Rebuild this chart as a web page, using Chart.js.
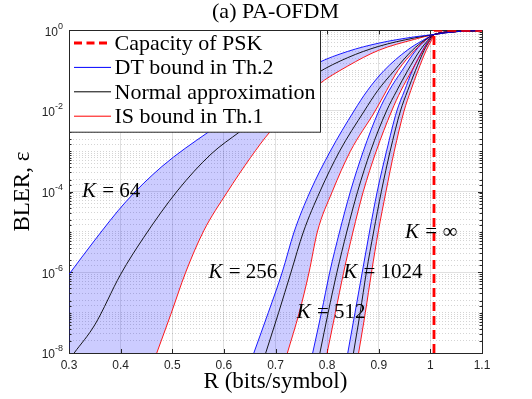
<!DOCTYPE html>
<html>
<head>
<meta charset="utf-8">
<script src="https://cdn.jsdelivr.net/npm/chart.js@4.4.1/dist/chart.umd.min.js"></script>
<style>
  html, body { margin: 0; padding: 0; background: #fff; }
  #wrap { width: 532px; height: 399px; }
</style>
</head>
<body>
<div id="wrap"><canvas id="blerChart"></canvas></div>
<script>
// axis ranges and ticks
const rRange = [0.3, 1.1];
const blerRange = [1e-8, 1];
const rTicks = [0.3, 0.4, 0.5, 0.6, 0.7, 0.8, 0.9, 1.0, 1.1];
const blerLabelExps = [0, -2, -4, -6, -8];

const seriesNames = ['Capacity of PSK', 'DT bound in Th.2', 'Normal approximation', 'IS bound in Th.1'];
const capacityR = 1.007;

// K = 64
const r64DT = [0.30, 0.35, 0.41, 0.48, 0.57, 0.62, 0.67, 0.72, 0.78, 0.84, 0.90, 0.97, 1.008, 1.05, 1.1];
const bler64DT = [8.9e-7, 6.3e-6, 5.6e-5, 4.2e-4, 3.0e-3, 7.9e-3, 2.1e-2, 5.0e-2, 0.15, 0.30, 0.48, 0.69, 0.79, 0.93, 0.99];
const r64NA = [0.31, 0.35, 0.40, 0.445, 0.51, 0.575, 0.63, 0.68, 0.73, 0.78, 0.84, 0.90, 0.97, 1.008, 1.05, 1.1];
const bler64NA = [1e-8, 5.0e-8, 8.9e-7, 7.4e-6, 1.05e-4, 8.5e-4, 3.0e-3, 8.9e-3, 2.8e-2, 8.5e-2, 0.21, 0.40, 0.65, 0.79, 0.93, 0.99];
const r64IS = [0.47, 0.497, 0.526, 0.561, 0.606, 0.652, 0.689, 0.73, 0.78, 0.84, 0.90, 0.97, 1.008, 1.05, 1.1];
const bler64IS = [1e-8, 8.9e-8, 1e-6, 1.07e-5, 9.5e-5, 7.1e-4, 3.0e-3, 1e-2, 4.2e-2, 0.13, 0.32, 0.60, 0.79, 0.93, 0.99];

// K = 256, 512, 1024: rate at which each curve reaches these BLER levels
const blerLevels = [1e-8, 1e-7, 1e-6, 1e-5, 1e-4, 1e-3, 1e-2, 3.2e-2, 0.1, 0.32, 0.56, 0.79, 0.93, 0.99];
const r256DT = [0.658, 0.686, 0.713, 0.736, 0.767, 0.806, 0.852, 0.878, 0.910, 0.955, 0.985, 1.008, 1.05, 1.1];
const r256NA = [0.681, 0.706, 0.730, 0.754, 0.786, 0.824, 0.872, 0.898, 0.930, 0.965, 0.988, 1.008, 1.05, 1.1];
const r256IS = [0.723, 0.746, 0.765, 0.781, 0.810, 0.845, 0.893, 0.915, 0.937, 0.970, 0.990, 1.008, 1.05, 1.1];
const r512DT = [0.772, 0.789, 0.805, 0.824, 0.845, 0.870, 0.900, 0.920, 0.945, 0.972, 0.990, 1.008, 1.05, 1.1];
const r512NA = [0.786, 0.802, 0.819, 0.838, 0.859, 0.884, 0.915, 0.935, 0.956, 0.980, 0.995, 1.008, 1.05, 1.1];
const r512IS = [0.800, 0.816, 0.832, 0.850, 0.870, 0.895, 0.925, 0.943, 0.964, 0.986, 0.998, 1.008, 1.05, 1.1];
const r1024DT = [0.840, 0.854, 0.868, 0.882, 0.897, 0.915, 0.935, 0.950, 0.965, 0.985, 0.997, 1.008, 1.05, 1.1];
const r1024NA = [0.851, 0.864, 0.876, 0.890, 0.905, 0.922, 0.942, 0.956, 0.971, 0.988, 0.999, 1.008, 1.05, 1.1];
const r1024IS = [0.861, 0.874, 0.886, 0.899, 0.914, 0.930, 0.949, 0.962, 0.976, 0.992, 1.002, 1.008, 1.05, 1.1];

// curve labels
const kNames = ['64', '256', '512', '1024', '\u221e'];
const kLabelR = [0.325, 0.57, 0.741, 0.831, 0.951];
const kLabelBler = [1e-4, 1e-6, 1e-7, 1e-6, 1e-5];

const SERIF = '"Liberation Serif", "Times New Roman", serif';
const SANS = '"Liberation Sans", Arial, sans-serif';
const AXIS_COLOR = '#262626';
const curveColors = ['#0000ff', '#000000', '#ff0000'];

const toPoints = (rs, ys) => rs.map((r, i) => ({ x: r, y: ys[i] }));

const families = [
    [toPoints(r64DT, bler64DT), toPoints(r64NA, bler64NA), toPoints(r64IS, bler64IS)],
    [toPoints(r256DT, blerLevels), toPoints(r256NA, blerLevels), toPoints(r256IS, blerLevels)],
    [toPoints(r512DT, blerLevels), toPoints(r512NA, blerLevels), toPoints(r512IS, blerLevels)],
    [toPoints(r1024DT, blerLevels), toPoints(r1024NA, blerLevels), toPoints(r1024IS, blerLevels)]
];

const datasets = [{
    label: seriesNames[0],
    data: [
        { x: capacityR, y: blerRange[0] },
        { x: capacityR, y: blerRange[1] },
        { x: rRange[1], y: blerRange[1] }
    ],
    borderColor: '#ff0000',
    borderWidth: 2.8,
    borderDash: [9, 5],
    pointRadius: 0
}];
families.forEach(curves => {
    curves.forEach((pts, j) => {
        datasets.push({
            label: seriesNames[j + 1],
            data: pts,
            borderColor: curveColors[j],
            borderWidth: 0.9,
            pointRadius: 0,
            cubicInterpolationMode: 'monotone'
        });
    });
});

const isDecade = v => {
    const e = Math.log10(v);
    return Math.abs(e - Math.round(e)) < 1e-6;
};
const isLabelDecade = v => isDecade(v) && Math.round(Math.log10(v)) % 2 === 0;

// shaded region between DT bound and IS bound of each K
const bandFill = {
    id: 'bandFill',
    beforeDatasetsDraw(chart) {
        const { ctx, chartArea } = chart;
        ctx.save();
        ctx.beginPath();
        ctx.rect(chartArea.left, chartArea.top, chartArea.right - chartArea.left, chartArea.bottom - chartArea.top);
        ctx.clip();
        ctx.fillStyle = 'rgba(0, 0, 255, 0.2)';
        families.forEach((f, k) => {
            const upper = chart.getDatasetMeta(1 + 3 * k).dataset;
            const lower = chart.getDatasetMeta(3 + 3 * k).dataset;
            upper.updateControlPoints(chartArea, 'x');
            lower.updateControlPoints(chartArea, 'x');
            const up = upper.points;
            const lo = lower.points;
            ctx.beginPath();
            upper.path(ctx);
            lower.pathSegment(ctx, lower.segments[0], { move: false, reverse: true });
            ctx.lineTo(lo[0].x, chartArea.bottom + 5);
            ctx.lineTo(up[0].x, chartArea.bottom + 5);
            ctx.closePath();
            ctx.fill();
        });
        ctx.restore();
    }
};

// box around the axes with inward ticks, like the original figure
const axesBox = {
    id: 'axesBox',
    beforeDatasetsDraw(chart) {
        const { ctx, chartArea: a } = chart;
        const xs = chart.scales.x;
        const ys = chart.scales.y;
        ctx.save();
        ctx.strokeStyle = AXIS_COLOR;
        ctx.lineWidth = 1;
        ctx.beginPath();
        ctx.moveTo(a.left, Math.round(a.top) + 0.5);
        ctx.lineTo(a.right, Math.round(a.top) + 0.5);
        ctx.moveTo(Math.round(a.right) + 0.5, a.top);
        ctx.lineTo(Math.round(a.right) + 0.5, a.bottom);
        rTicks.forEach(v => {
            const px = Math.round(xs.getPixelForValue(v)) + 0.5;
            ctx.moveTo(px, a.bottom);
            ctx.lineTo(px, a.bottom - 4);
            ctx.moveTo(px, a.top);
            ctx.lineTo(px, a.top + 4);
        });
        ys.ticks.forEach(t => {
            const py = Math.round(ys.getPixelForValue(t.value)) + 0.5;
            const len = isLabelDecade(t.value) ? 4 : 2.5;
            ctx.moveTo(a.left, py);
            ctx.lineTo(a.left + len, py);
            ctx.moveTo(a.right, py);
            ctx.lineTo(a.right - len, py);
        });
        ctx.stroke();
        ctx.restore();
    }
};

// y tick labels as 10^k, legend box and K labels
const overlay = {
    id: 'overlay',
    afterDatasetsDraw(chart) {
        const { ctx, chartArea: a } = chart;
        const xs = chart.scales.x;
        const ys = chart.scales.y;
        ctx.save();

        ctx.fillStyle = AXIS_COLOR;
        blerLabelExps.forEach(e => {
            const py = ys.getPixelForValue(Math.pow(10, e));
            const expText = e === 0 ? '0' : '-' + Math.abs(e);
            ctx.font = '9px ' + SANS;
            const wExp = ctx.measureText(expText).width;
            const xb = a.left - 6 - wExp;
            ctx.textBaseline = 'middle';
            ctx.textAlign = 'left';
            ctx.fillText(expText, xb, py - 4);
            ctx.font = '12px ' + SANS;
            ctx.textAlign = 'right';
            ctx.fillText('10', xb, py + 2);
        });

        // legend
        ctx.font = '22px ' + SERIF;
        const textW = Math.max(...seriesNames.map(s => ctx.measureText(s).width));
        const lx = Math.round(a.left) + 0.5;
        const ly = Math.round(a.top) + 0.5;
        const rowH = 24.4;
        const boxW = 45 + textW + 5;
        const boxH = 12.5 + rowH * 3 + 16;
        ctx.fillStyle = '#ffffff';
        ctx.fillRect(lx, ly, boxW, boxH);
        ctx.strokeStyle = AXIS_COLOR;
        ctx.lineWidth = 1;
        ctx.strokeRect(lx, ly, boxW, boxH);
        seriesNames.forEach((name, i) => {
            const ds = chart.data.datasets[i];
            const y = ly + 12.5 + i * rowH;
            ctx.beginPath();
            ctx.strokeStyle = ds.borderColor;
            ctx.lineWidth = i === 0 ? 2.8 : 1;
            ctx.setLineDash(i === 0 ? [8, 4.5] : []);
            ctx.moveTo(lx + 4.5, y);
            ctx.lineTo(lx + 41.5, y);
            ctx.stroke();
            ctx.setLineDash([]);
            ctx.fillStyle = '#000';
            ctx.textAlign = 'left';
            ctx.textBaseline = 'middle';
            ctx.fillText(name, lx + 45, y + 1);
        });

        // K = ... labels
        kNames.forEach((name, i) => {
            const x = xs.getPixelForValue(kLabelR[i]);
            const y = ys.getPixelForValue(kLabelBler[i]);
            ctx.fillStyle = '#000';
            ctx.textAlign = 'left';
            ctx.textBaseline = 'middle';
            ctx.font = 'italic 21px ' + SERIF;
            ctx.fillText('K', x, y);
            const wK = ctx.measureText('K').width;
            ctx.font = '21px ' + SERIF;
            ctx.fillText(' = ' + name, x + wK + 1, y);
        });
        ctx.restore();
    }
};

const ctxEl = document.getElementById('blerChart').getContext('2d');
new Chart(ctxEl, {
    type: 'line',
    data: { datasets },
    plugins: [bandFill, axesBox, overlay],
    options: {
        responsive: true,
        maintainAspectRatio: false,
        animation: false,
        parsing: false,
        layout: { padding: { left: 0, right: 50, top: 0, bottom: 0 } },
        plugins: {
            legend: { display: false },
            tooltip: { enabled: false },
            title: {
                display: true,
                fullSize: false,
                text: '(a) PA-OFDM',
                color: '#000',
                font: { family: SERIF, size: 22, weight: 'normal', lineHeight: 1.15 },
                padding: { top: 0, bottom: 5 }
            }
        },
        scales: {
            x: {
                type: 'linear',
                min: rRange[0],
                max: rRange[1],
                afterBuildTicks: s => { s.ticks = rTicks.map(v => ({ value: v })); },
                afterFit: s => { s.height = 46; },
                ticks: {
                    color: AXIS_COLOR,
                    font: { family: SANS, size: 12 },
                    padding: 5,
                    maxRotation: 0,
                    autoSkip: false,
                    callback: v => String(Math.round(v * 10) / 10)
                },
                grid: { color: 'rgba(0, 0, 0, 0.12)', drawTicks: false },
                border: { color: AXIS_COLOR, width: 1 },
                title: {
                    display: true,
                    text: 'R (bits/symbol)',
                    color: '#000',
                    font: { family: SERIF, size: 23 },
                    padding: { top: 0, bottom: 3 }
                }
            },
            y: {
                type: 'logarithmic',
                min: blerRange[0],
                max: blerRange[1],
                afterFit: s => { s.width = 69; },
                ticks: { display: false, autoSkip: false },
                grid: {
                    drawTicks: false,
                    color: c => (c.tick && !isLabelDecade(c.tick.value)) ? 'rgba(0, 0, 0, 0.17)' : 'rgba(0, 0, 0, 0.12)'
                },
                border: {
                    color: AXIS_COLOR,
                    width: 1,
                    dash: c => (c.tick && !isLabelDecade(c.tick.value)) ? [1, 2] : []
                },
                title: {
                    display: true,
                    text: 'BLER, \u03b5',
                    color: '#000',
                    font: { family: SERIF, size: 23 },
                    padding: { top: 9, bottom: 0 }
                }
            }
        }
    }
});
</script>
</body>
</html>
